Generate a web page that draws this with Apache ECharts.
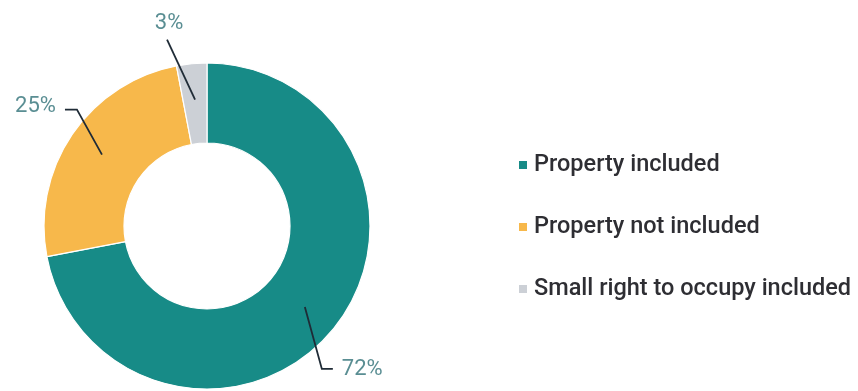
<!DOCTYPE html>
<html>
<head>
<meta charset="utf-8">
<script src="https://cdn.jsdelivr.net/npm/echarts@6/dist/echarts.min.js"></script>
<style>
  html, body { margin: 0; padding: 0; background: #ffffff; }
  #chart { width: 858px; height: 391px; }
</style>
</head>
<body>
<div id="chart"></div>
<script>
// Share of agreements by what the deal covers (percent)
const categories = ['Property included', 'Property not included', 'Small right to occupy included'];
const shares = [72, 25, 3];

// Slice colours, in category order
const sliceColors = ['#178b87', '#f7b84b', '#ccd0d6'];

// Leader line shape per slice: bend offset from the line start, then horizontal tail
const leaderBend = [[17, 62], [-25, -45], [-28, -60]];
const leaderTail = [11, -12, 0];

const CENTER = [207, 226];

const chart = echarts.init(document.getElementById('chart'), null, { renderer: 'canvas' });

const ringData = categories.map((name, i) => ({
  name: name,
  value: shares[i],
  itemStyle: { color: sliceColors[i] }
}));

const labelData = categories.map((name, i) => ({ name: name, value: shares[i] }));

chart.setOption({
  animation: false,
  backgroundColor: '#ffffff',
  legend: {
    orient: 'vertical',
    left: 512,
    top: 148,
    icon: 'rect',
    itemWidth: 10,
    itemHeight: 10,
    itemGap: 38,
    selectedMode: false,
    data: categories,
    textStyle: {
      fontFamily: 'Roboto, "Liberation Sans", sans-serif',
      fontSize: 23.5,
      fontWeight: 500,
      color: '#2e2e33',
      lineHeight: 24,
      padding: [0, 0, 0, 1]
    }
  },
  series: [
    {
      // the ring itself
      type: 'pie',
      name: 'ring',
      z: 2,
      center: CENTER,
      radius: [83, 163],
      startAngle: 90,
      clockwise: true,
      silent: true,
      label: { show: false },
      labelLine: { show: false },
      itemStyle: { borderColor: '#ffffff', borderWidth: 1.2 },
      data: ringData
    },
    {
      // invisible twin whose rim sits mid-ring, so leader lines start inside the band
      type: 'pie',
      name: 'labels',
      z: 5,
      center: CENTER,
      radius: [0, 127],
      startAngle: 90,
      clockwise: true,
      silent: true,
      legendHoverLink: false,
      itemStyle: { color: 'rgba(0,0,0,0)' },
      label: {
        show: true,
        position: 'outside',
        formatter: '{c}%',
        fontFamily: 'Roboto, "Liberation Sans", sans-serif',
        fontSize: 22,
        color: '#5a8e93'
      },
      labelLine: {
        show: true,
        length: 10,
        length2: 10,
        lineStyle: { color: '#1f2b36', width: 1.8 }
      },
      labelLayout: function (p) {
        const pts = p.labelLinePoints;
        if (!pts) return {};
        const i = p.dataIndex;
        const s = pts[0];
        const b = [s[0] + leaderBend[i][0], s[1] + leaderBend[i][1]];
        const e = [b[0] + leaderTail[i], b[1]];
        if (leaderTail[i] > 0) {
          return { x: e[0] + 9, y: e[1] + 1, align: 'left', verticalAlign: 'middle',
                   labelLinePoints: [s, b, e] };
        } else if (leaderTail[i] < 0) {
          return { x: e[0] - 9, y: e[1] - 3, align: 'right', verticalAlign: 'middle',
                   labelLinePoints: [s, b, e] };
        }
        return { x: e[0] + 2, y: e[1] - 16, align: 'center', verticalAlign: 'middle',
                 labelLinePoints: [s, b, e] };
      },
      data: labelData
    }
  ]
});
</script>
</body>
</html>
